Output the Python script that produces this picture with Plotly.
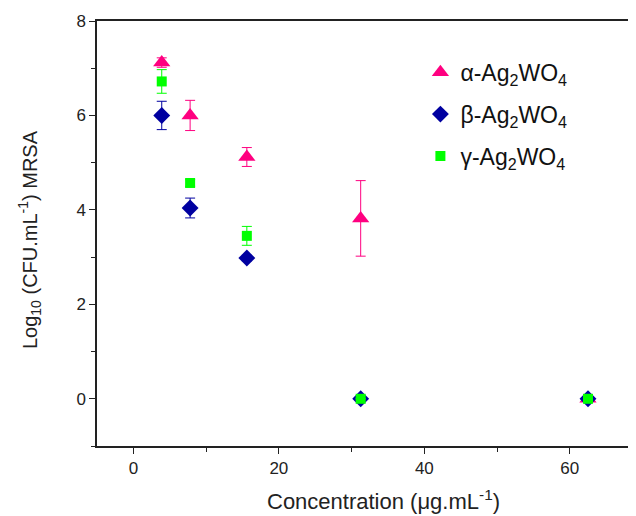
import plotly.graph_objects as go

conc = [3.9, 7.8, 15.6, 31.25, 62.5]
alpha_y = [7.12, 6.0, 5.12, 3.82, 0.0]
alpha_err = [0.1, 0.32, 0.2, 0.8, 0.0]
beta_conc = [3.9, 7.8, 15.6, 31.25, 62.5]
beta_y = [6.0, 4.04, 2.98, 0.0, 0.0]
beta_err = [0.3, 0.21, 0.06, 0.0, 0.0]
gamma_y = [6.72, 4.57, 3.45, 0.0, 0.0]
gamma_err = [0.25, 0.07, 0.2, 0.0, 0.0]

pink = "rgb(255,0,128)"
navy = "rgb(0,0,160)"
green = "rgb(0,255,0)"

fig = go.Figure()
fig.add_trace(go.Scatter(
    x=conc, y=alpha_y, mode="markers", name="α-Ag<sub>2</sub>WO<sub>4</sub>",
    legendgroup="a",
    marker=dict(symbol="triangle-up", size=15, color=pink),
    error_y=dict(type="data", array=alpha_err, color=pink, thickness=1, width=5, visible=True)))
fig.add_trace(go.Scatter(
    x=beta_conc, y=beta_y, mode="markers", name="β-Ag<sub>2</sub>WO<sub>4</sub>",
    legendgroup="b",
    marker=dict(symbol="diamond", size=13, color=navy),
    error_y=dict(type="data", array=beta_err, color=navy, thickness=1, width=5, visible=True)))
fig.add_trace(go.Scatter(
    x=conc, y=gamma_y, mode="markers", name="γ-Ag<sub>2</sub>WO<sub>4</sub>",
    legendgroup="c",
    marker=dict(symbol="square", size=10, color=green),
    error_y=dict(type="data", array=gamma_err, color=green, thickness=1, width=5, visible=True)))

axis_font = dict(family="Liberation Sans, Arial, sans-serif", size=17, color="#222")
fig.update_layout(
    width=628, height=508,
    margin=dict(l=89, r=0, t=13, b=70),
    paper_bgcolor="white", plot_bgcolor="white",
    font=axis_font,
    showlegend=True,
    legend=dict(x=0.6, y=0.93, xanchor="left", yanchor="top",
                font=dict(family="Liberation Sans, Arial, sans-serif", size=23, color="#111"),
                tracegroupgap=9, bgcolor="rgba(0,0,0,0)", itemsizing="trace"),
    xaxis=dict(range=[-5, 69.1], showgrid=False, zeroline=False, automargin=False,
               showline=True, linecolor="#222", linewidth=1.5, mirror=True,
               ticks="outside", ticklen=6, tickwidth=1.3, tickcolor="#222",
               tickvals=[0, 20, 40, 60],
               minor=dict(tickvals=[10, 30, 50], ticks="outside", ticklen=4, tickcolor="#222")),
    yaxis=dict(range=[-1, 8], showgrid=False, zeroline=False, automargin=False,
               showline=True, linecolor="#222", linewidth=1.5, mirror=False,
               ticks="outside", ticklen=6, tickwidth=1.3, tickcolor="#222",
               tickvals=[0, 2, 4, 6, 8],
               minor=dict(tickvals=[-1, 1, 3, 5, 7], ticks="outside", ticklen=4, tickcolor="#222")),
    annotations=[
        dict(text="Concentration (μg.mL<sup>-1</sup>)", xref="paper", yref="paper",
             x=0.532, y=-0.126, xanchor="center", yanchor="middle", showarrow=False,
             font=dict(size=22, color="#222")),
        dict(text="Log<sub>10</sub> (CFU.mL<sup>-1</sup>) MRSA", xref="paper", yref="paper",
             x=-0.124, y=0.485, xanchor="center", yanchor="middle", showarrow=False,
             textangle=-90, font=dict(size=20, color="#222")),
    ],
)
fig.write_html("out.html")
